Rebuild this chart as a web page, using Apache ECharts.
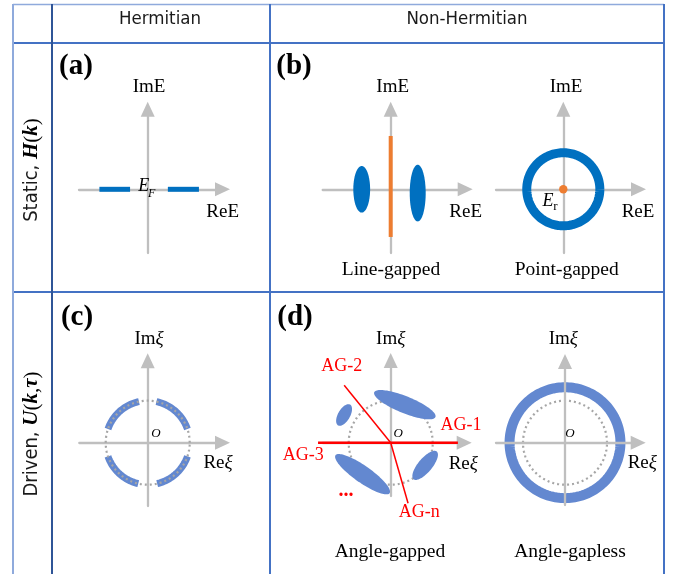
<!DOCTYPE html>
<html>
<head>
<meta charset="utf-8">
<script src="https://cdn.jsdelivr.net/npm/echarts@6/dist/echarts.min.js"></script>
<style>
  html, body { margin: 0; padding: 0; background: #ffffff; }
  #chart { width: 673px; height: 574px; }
</style>
</head>
<body>
<div id="chart"></div>
<script>
// ---- spectra, in complex-plane units (unit circle = |xi| = 1) ----
// Hermitian bands on the real axis: [from, to]
const hermitianBands = [[-1.15, -0.42], [0.48, 1.22]];
// line-gapped blobs: [cx, cy, rx, ry]
const lineGapBlobs = [[-0.69, 0.0, 0.2, 0.555], [0.643, -0.09, 0.19, 0.675]];
// reference line of the line gap: [x, top, bottom]
const lineGapCut = [[0, 1.27, -1.135]];
// point-gapped loop: [cx, cy, radius]
const pointGapRing = [[0, 0, 0.87]];
// reference point E_r
const pointGapRef = [[0, 0]];
// Floquet arcs on the unit circle: [startDeg, endDeg]
const floquetArcs = [[19, 78], [102, 161], [199, 257], [283, 341]];
// unit circle: [cx, cy, radius]
const unitCircle = [[0, 0, 1]];
// angle-gapped blobs: [cx, cy, semi-major, semi-minor, tiltDeg]
const angleGapBlobs = [
  [0.336, 0.905, 0.786, 0.202, -22],
  [-1.11, 0.66, 0.286, 0.143, 60],
  [-0.67, -0.75, 0.786, 0.202, -35],
  [0.82, -0.54, 0.43, 0.167, 50]
];
// angle-gap rays from the origin: [angleDeg, length]
const angleGapCuts = [[0, 1.6], [180, 1.73], [129, 1.76], [-74, 1.5]];
// angle-gapless loop: [cx, cy, radius]
const gaplessRing = [[0, 0, 1.32]];

// ---- layout ----
const S = 42;                 // pixels per unit in every panel
const ARROW = [14, 15];       // arrow head width, length
const BLUE = '#0070c0';
const LIGHTBLUE = '#6388d0';
const ORANGE = '#ed7d31';
const RED = '#ff0000';
const AXISGRAY = '#bfbfbf';
const DOTGRAY = '#a6a6a6';
const SERIF = '"Liberation Serif", "Times New Roman", serif';
const SANS = '"Liberation Sans Narrow", "DejaVu Sans Condensed", "Noto Sans", sans-serif';

// origin (ox, oy) and axis reach to the left, right tip, top tip and bottom
const panels = [
  { ox: 147.7, oy: 189.3, xl: 68.7, xr: 82.3, yt: 87.6, yb: 63.7 },
  { ox: 390.7, oy: 189.3, xl: 68.0, xr: 82.0, yt: 87.6, yb: 63.7 },
  { ox: 563.3, oy: 189.3, xl: 67.3, xr: 82.7, yt: 87.6, yb: 63.7 },
  { ox: 147.7, oy: 442.7, xl: 68.4, xr: 82.3, yt: 89.4, yb: 63.3 },
  { ox: 390.7, oy: 442.7, xl: 68.0, xr: 81.0, yt: 89.7, yb: 53.3 },
  { ox: 565.0, oy: 442.7, xl: 69.0, xr: 80.7, yt: 88.7, yb: 62.3, axisOnTop: true }
];

const half = ARROW[1] / 2;
const grids = [], xAxes = [], yAxes = [];
panels.forEach((p, i) => {
  grids.push({
    left: p.ox - p.xl, top: p.oy - (p.yt - half),
    width: p.xl + p.xr - half, height: p.yt - half + p.yb,
    containLabel: false
  });
  const axisCommon = {
    type: 'value', gridIndex: i, z: p.axisOnTop ? 5 : 0,
    axisLine: { show: true, onZero: true, symbol: ['none', 'triangle'], symbolSize: ARROW,
                lineStyle: { color: AXISGRAY, width: 2.3 } },
    axisTick: { show: false }, axisLabel: { show: false }, splitLine: { show: false }
  };
  xAxes.push(Object.assign({}, axisCommon, { min: -p.xl / S, max: (p.xr - half) / S }));
  yAxes.push(Object.assign({}, axisCommon, { min: -p.yb / S, max: (p.yt - half) / S }));
});

// ---- drawing helpers ----
function ellipsePoints(api, cx, cy, a, b, deg) {
  const f = deg * Math.PI / 180, c = Math.cos(f), s = Math.sin(f), pts = [];
  for (let i = 0; i < 96; i++) {
    const t = i / 96 * 2 * Math.PI, u = a * Math.cos(t), v = b * Math.sin(t);
    pts.push(api.coord([cx + u * c - v * s, cy + u * s + v * c]));
  }
  return pts;
}
function arcPoints(api, cx, cy, r, d0, d1) {
  const n = Math.max(8, Math.round(Math.abs(d1 - d0) / 2)), pts = [];
  for (let i = 0; i <= n; i++) {
    const t = (d0 + (d1 - d0) * i / n) * Math.PI / 180;
    pts.push(api.coord([cx + r * Math.cos(t), cy + r * Math.sin(t)]));
  }
  return pts;
}
function custom(idx, data, z, renderItem) {
  return { type: 'custom', xAxisIndex: idx, yAxisIndex: idx, data: data, z: z,
           silent: true, renderItem: renderItem };
}
function loop(color, width, dash) {
  return (params, api) => ({
    type: 'polyline',
    shape: { points: arcPoints(api, api.value(0), api.value(1), api.value(2), 0, 360) },
    style: { stroke: color, lineWidth: width, fill: 'none', lineDash: dash || null }
  });
}

const series = [
  // (a) Hermitian bands
  custom(0, hermitianBands, 2, (params, api) => {
    const a = api.coord([api.value(0), 0]), b = api.coord([api.value(1), 0]);
    return { type: 'line', shape: { x1: a[0], y1: a[1], x2: b[0], y2: b[1] },
             style: { stroke: BLUE, lineWidth: 5 } };
  }),
  // (b) line-gapped
  custom(1, lineGapBlobs, 2, (params, api) => ({
    type: 'polygon',
    shape: { points: ellipsePoints(api, api.value(0), api.value(1), api.value(2), api.value(3), 0) },
    style: { fill: BLUE }
  })),
  custom(1, lineGapCut, 3, (params, api) => {
    const a = api.coord([api.value(0), api.value(1)]), b = api.coord([api.value(0), api.value(2)]);
    return { type: 'line', shape: { x1: a[0], y1: a[1], x2: b[0], y2: b[1] },
             style: { stroke: ORANGE, lineWidth: 4 } };
  }),
  // (b) point-gapped
  custom(2, pointGapRing, 2, loop(BLUE, 9)),
  custom(2, pointGapRef, 3, (params, api) => {
    const c = api.coord([api.value(0), api.value(1)]);
    return { type: 'circle', shape: { cx: c[0], cy: c[1], r: 4.2 }, style: { fill: ORANGE } };
  }),
  // (c) Floquet arcs with the unit circle on top
  custom(3, floquetArcs, 2, (params, api) => ({
    type: 'polyline',
    shape: { points: arcPoints(api, 0, 0, 1, api.value(0), api.value(1)) },
    style: { stroke: LIGHTBLUE, lineWidth: 7, fill: 'none' }
  })),
  custom(3, unitCircle, 3, loop(DOTGRAY, 2.2, [2, 3])),
  // (d) angle-gapped
  custom(4, unitCircle, 2, loop(DOTGRAY, 2.2, [2, 3])),
  custom(4, angleGapBlobs, 3, (params, api) => ({
    type: 'polygon',
    shape: { points: ellipsePoints(api, api.value(0), api.value(1), api.value(2), api.value(3), api.value(4)) },
    style: { fill: LIGHTBLUE }
  })),
  custom(4, angleGapCuts, 4, (params, api) => {
    const t = api.value(0) * Math.PI / 180, L = api.value(1);
    const a = api.coord([0, 0]), b = api.coord([L * Math.cos(t), L * Math.sin(t)]);
    const flat = Math.abs(Math.sin(t)) < 1e-6;
    return { type: 'line', shape: { x1: a[0], y1: a[1], x2: b[0], y2: b[1] },
             style: { stroke: RED, lineWidth: flat ? 2.5 : 1.5 } };
  }),
  // (d) angle-gapless
  custom(5, gaplessRing, 2, loop(LIGHTBLUE, 10)),
  custom(5, unitCircle, 3, loop(DOTGRAY, 2.2, [2, 3]))
];

// ---- table frame and text ----
const g = [];
function hline(y, x1, x2, color, w) {
  g.push({ type: 'line', z: 1, shape: { x1: x1, y1: y, x2: x2, y2: y }, style: { stroke: color, lineWidth: w } });
}
function vline(x, y1, y2, color, w) {
  g.push({ type: 'line', z: 1, shape: { x1: x, y1: y1, x2: x, y2: y2 }, style: { stroke: color, lineWidth: w } });
}
hline(4.5, 13, 664, '#8faadc', 1.5);
hline(43, 13, 664, '#4472c4', 2);
hline(292, 13, 664, '#4472c4', 2);
vline(13, 4, 574, '#8faadc', 2);
vline(52, 4, 574, '#2f5597', 2);
vline(270, 4, 574, '#4472c4', 2);
vline(664, 4, 574, '#4472c4', 2);

function text(x, y, str, font, fill, extra) {
  g.push(Object.assign({ type: 'text', z: 10, x: x, y: y,
    style: { text: str, font: font, fill: fill || '#000', align: 'center', verticalAlign: 'middle' } }, extra || {}));
}
function richText(x, y, str, rich, extra) {
  g.push(Object.assign({ type: 'text', z: 10, x: x, y: y,
    style: { text: str, rich: rich, fill: '#000', align: 'center', verticalAlign: 'middle' } }, extra || {}));
}
const upright = { fontFamily: SERIF, fontSize: 19, fill: '#000' };
const slanted = { fontFamily: SERIF, fontSize: 19, fontStyle: 'italic', fill: '#000' };
const axisRich = { u: upright, i: slanted };

// column headers
text(160, 19, 'Hermitian', '18.5px ' + SANS, '#1a1a1a');
text(467, 19, 'Non-Hermitian', '18.5px ' + SANS, '#1a1a1a');
// row headers (rotated)
const rowRich = {
  s: { fontFamily: SANS, fontSize: 20, fill: '#1a1a1a' },
  b: { fontFamily: SERIF, fontSize: 21, fontStyle: 'italic', fontWeight: 'bold', fill: '#000' },
  p: { fontFamily: SERIF, fontSize: 21, fill: '#000' }
};
richText(32, 170, '{s|Static, }{b|H}{p|(}{b|k}{p|)}', rowRich, { rotation: Math.PI / 2 });
richText(32, 434, '{s|Driven, }{b|U}{p|(}{b|k}{p|,}{b|τ}{p|)}', rowRich, { rotation: Math.PI / 2 });

// panel letters
const letterFont = 'bold 29px ' + SERIF;
text(76, 67, '(a)', letterFont);
text(294, 67, '(b)', letterFont);
text(77, 318, '(c)', letterFont);
text(295, 318, '(d)', letterFont);

// axis names
const nameFont = '19px ' + SERIF;
text(149, 86.7, 'ImE', nameFont);
text(222.7, 211.7, 'ReE', nameFont);
text(392.7, 86.7, 'ImE', nameFont);
text(465.7, 211.7, 'ReE', nameFont);
text(566, 86.7, 'ImE', nameFont);
text(638, 211.7, 'ReE', nameFont);
[[149, 339, 218, 463], [390.7, 339, 463.3, 464], [563.3, 339.3, 642.3, 462.7]].forEach(q => {
  richText(q[0], q[1], '{u|Im}{i|ξ}', axisRich);
  richText(q[2], q[3], '{u|Re}{i|ξ}', axisRich);
});
// origin marks
const oFont = 'italic 13px ' + SERIF;
text(156, 434, 'O', oFont);
text(398.3, 434, 'O', oFont);
text(570, 434, 'O', oFont);
// energies
text(143.8, 186.7, 'E', 'italic 18px ' + SERIF);
text(151.7, 194.2, 'F', 'italic 12px ' + SERIF);
text(548, 201.7, 'E', 'italic 18px ' + SERIF);
text(555.5, 206.5, 'r', '13px ' + SERIF);
// captions
const capFont = '19.5px ' + SERIF;
text(391, 270, 'Line-gapped', capFont);
text(566.7, 270, 'Point-gapped', capFont);
text(390, 551.7, 'Angle-gapped', capFont);
text(570, 551.7, 'Angle-gapless', capFont);
// angle-gap labels
const agFont = '18px ' + SERIF;
text(341.7, 366, 'AG-2', agFont, RED);
text(461, 425, 'AG-1', agFont, RED);
text(303.3, 455, 'AG-3', agFont, RED);
text(419.3, 512.7, 'AG-n', agFont, RED);
text(346, 491, '...', 'bold 20px ' + SERIF, RED);

const chart = echarts.init(document.getElementById('chart'), null, { renderer: 'canvas' });
chart.setOption({
  animation: false,
  backgroundColor: '#ffffff',
  grid: grids,
  xAxis: xAxes,
  yAxis: yAxes,
  series: series,
  graphic: { elements: g }
});
</script>
</body>
</html>
